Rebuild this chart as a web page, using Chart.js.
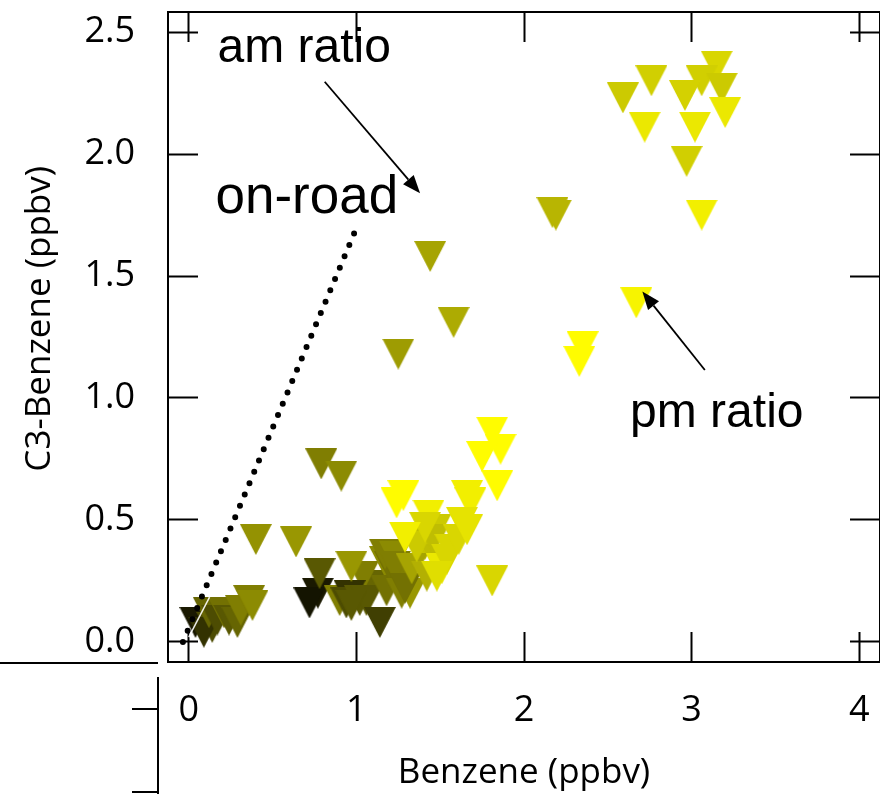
<!DOCTYPE html>
<html>
<head>
<meta charset="utf-8">
<script src="https://cdn.jsdelivr.net/npm/chart.js@4/dist/chart.umd.min.js"></script>
<style>
html,body{margin:0;padding:0;background:#fff;overflow:hidden;}
canvas{display:block;}
</style>
</head>
<body>
<canvas id="c" width="880" height="794" style="width:880px;height:794px"></canvas>
<script>
// ---- data ----
const benzene = [
  2.59, 2.76, 3.15, 3.06, 2.96, 3.18, 3.20, 2.72, 3.02, 2.97, 3.06, 2.67, 2.35, 2.33, 2.17, 2.19,
  1.44, 1.58, 1.25,
  0.04, 0.14, 0.09, 0.12, 0.17, 0.21, 0.24, 0.29, 0.31, 0.36, 0.38, 0.40, 0.64,
  0.79, 0.91,
  1.10, 1.04, 1.24, 1.32, 1.39, 1.47, 1.17, 1.41,
  0.77, 0.72, 0.78, 0.90, 0.96, 0.94, 0.97, 1.02, 1.06, 1.14, 0.97,
  1.18, 1.20, 1.17, 1.23, 1.23, 1.27, 1.29, 1.33, 1.35, 1.42, 1.48, 1.36, 1.46,
  1.81, 1.86, 1.75, 1.84, 1.28, 1.24, 1.66, 1.68, 1.43, 1.63, 1.41, 1.29, 1.56, 1.51, 1.81, 1.54,
  1.61, 1.66, 1.48
];
const c3Benzene = [
  2.23, 2.30, 2.36, 2.30, 2.24, 2.27, 2.17, 2.11, 2.11, 1.97, 1.75, 1.39, 1.21, 1.15, 1.76, 1.75,
  1.58, 1.31, 1.18,
  0.08, 0.06, 0.04, 0.12, 0.09, 0.12, 0.09, 0.08, 0.13, 0.17, 0.15, 0.42, 0.41,
  0.73, 0.68,
  0.23, 0.27, 0.26, 0.20, 0.40, 0.46, 0.33, 0.40,
  0.20, 0.16, 0.28, 0.17, 0.19, 0.16, 0.31, 0.17, 0.17, 0.08, 0.15,
  0.21, 0.31, 0.36, 0.35, 0.31, 0.20, 0.22, 0.30, 0.42, 0.27, 0.34, 0.39, 0.42,
  0.86, 0.79, 0.76, 0.64, 0.60, 0.57, 0.60, 0.57, 0.52, 0.49, 0.47, 0.43, 0.38, 0.30, 0.25, 0.34,
  0.42, 0.46, 0.27
];
// colour level of each marker (0 = black, 1 = yellow)
const shade = [
  0.80, 0.82, 0.85, 0.82, 0.83, 0.80, 0.92, 0.92, 0.92, 0.82, 0.95, 0.97, 1.00, 1.00, 0.72, 0.72,
  0.65, 0.68, 0.62,
  0.10, 0.30, 0.20, 0.40, 0.30, 0.45, 0.35, 0.40, 0.50, 0.50, 0.55, 0.58, 0.60,
  0.50, 0.55,
  0.40, 0.50, 0.50, 0.60, 0.70, 0.80, 0.55, 0.78,
  0.10, 0.08, 0.35, 0.50, 0.20, 0.30, 0.60, 0.35, 0.35, 0.25, 0.35,
  0.45, 0.45, 0.50, 0.55, 0.50, 0.50, 0.45, 0.65, 0.75, 0.70, 0.75, 0.80, 0.75,
  1.00, 1.00, 1.00, 1.00, 1.00, 1.00, 0.95, 0.95, 0.95, 0.90, 0.85, 0.95, 0.85, 0.92, 0.85, 0.85,
  0.85, 0.90, 0.88
];
const xTickValues = [0, 1, 2, 3, 4];
const yTickValues = [0.0, 0.5, 1.0, 1.5, 2.0, 2.5];
const onRoadX = [-0.035, 0.99];
const onRoadY = [0.0, 1.68];
const faintX = [0.0, 0.124];
const faintY = [0.02, 0.184];
const noteText = ['am ratio', 'on-road', 'pm ratio'];
const noteX = [0.171, 0.159, 2.633];
const noteY = [2.377, 1.758, 0.881];
const arrowFromX = [0.811, 3.079];
const arrowFromY = [2.296, 1.115];
const arrowToX = [1.380, 2.706];
const arrowToY = [1.839, 1.436];

const xMin = -0.124, xMax = 4.124;
const yMin = -0.082, yMax = 2.582;

// ---- marker images ----
function shadeColor(t) {
  return 'rgb(' + Math.round(255 * t) + ',' + Math.round(252 * t) + ',' + Math.round(8 * t * (1 - t)) + ')';
}
function triangleImage(color) {
  const c = document.createElement('canvas');
  c.width = 32; c.height = 31;
  const g = c.getContext('2d');
  g.fillStyle = color;
  g.beginPath();
  g.moveTo(0, 0); g.lineTo(32, 0); g.lineTo(16, 31); g.closePath();
  g.fill();
  return c;
}
const markerImages = shade.map(t => triangleImage(shadeColor(t)));

const points = benzene.map((b, i) => ({x: b, y: c3Benzene[i]}));
const onRoad = onRoadX.map((v, i) => ({x: v, y: onRoadY[i]}));
const faint = faintX.map((v, i) => ({x: v, y: faintY[i]}));

const tickFont = {family: '"Open Sans", "DejaVu Sans", sans-serif', size: 36};
const titleFont = {family: '"Open Sans", "DejaVu Sans", sans-serif', size: 35};

function setTicks(values) {
  return s => { s.ticks = values.map(v => ({value: v})); };
}

const decorations = {
  id: 'decorations',
  afterDatasetsDraw(chart) {
    const {ctx} = chart;
    const sx = chart.scales.x, sy = chart.scales.y;
    ctx.save();
    // arrows
    ctx.strokeStyle = '#000';
    ctx.fillStyle = '#000';
    ctx.lineWidth = 1.8;
    for (let i = 0; i < arrowFromX.length; i++) {
      const x0 = sx.getPixelForValue(arrowFromX[i]), y0 = sy.getPixelForValue(arrowFromY[i]);
      const x1 = sx.getPixelForValue(arrowToX[i]), y1 = sy.getPixelForValue(arrowToY[i]);
      const a = Math.atan2(y1 - y0, x1 - x0);
      const L = 18, W = 7;
      const bx = x1 - L * Math.cos(a), by = y1 - L * Math.sin(a);
      ctx.beginPath(); ctx.moveTo(x0, y0); ctx.lineTo(bx, by); ctx.stroke();
      ctx.beginPath();
      ctx.moveTo(x1, y1);
      ctx.lineTo(bx + W * Math.sin(a), by - W * Math.cos(a));
      ctx.lineTo(bx - W * Math.sin(a), by + W * Math.cos(a));
      ctx.closePath(); ctx.fill();
    }
    // notes
    ctx.textAlign = 'left';
    ctx.textBaseline = 'alphabetic';
    const sizes = [48, 53, 48];
    noteText.forEach((t, i) => {
      ctx.font = sizes[i] + 'px "Liberation Sans", Arial, sans-serif';
      ctx.fillText(t, sx.getPixelForValue(noteX[i]), sy.getPixelForValue(noteY[i]));
    });
    ctx.restore();
  },
  afterDraw(chart) {
    // stray axis fragments of the neighbouring panel (bottom-left corner)
    const {ctx} = chart;
    ctx.save();
    ctx.strokeStyle = '#000';
    ctx.lineWidth = 2;
    ctx.beginPath();
    ctx.moveTo(0, 663); ctx.lineTo(158, 663);
    ctx.moveTo(158, 677); ctx.lineTo(158, 794);
    ctx.moveTo(132, 709); ctx.lineTo(158, 709);
    ctx.moveTo(132, 792); ctx.lineTo(158, 792);
    ctx.stroke();
    ctx.restore();
  }
};

new Chart(document.getElementById('c'), {
  type: 'scatter',
  data: {
    datasets: [
      {
        type: 'line',
        label: 'faint',
        data: faint,
        borderColor: 'rgba(255,255,255,0.9)',
        borderWidth: 1.5,
        pointRadius: 0,
        fill: false,
        order: 0
      },
      {
        type: 'line',
        label: 'on-road',
        data: onRoad,
        borderColor: '#000',
        borderWidth: 6,
        borderDash: [0, 12.3],
        borderCapStyle: 'round',
        pointRadius: 0,
        fill: false,
        order: 0
      },
      {
        label: 'C3-Benzene',
        data: points,
        pointStyle: markerImages,
        pointRadius: 15,
        pointHoverRadius: 15,
        order: 1
      }
    ]
  },
  options: {
    responsive: false,
    animation: false,
    devicePixelRatio: 1,
    layout: {autoPadding: false, padding: {top: 12, right: -9, left: 0, bottom: 0}},
    plugins: {legend: {display: false}, tooltip: {enabled: false}},
    scales: {
      x: {
        type: 'linear', position: 'bottom', min: xMin, max: xMax,
        afterBuildTicks: setTicks(xTickValues),
        afterFit: s => { s.height = 132; s.paddingLeft = 0; s.paddingRight = 0; },
        ticks: {color: '#000', font: tickFont, padding: 57, maxRotation: 0, callback: v => String(v)},
        grid: {drawOnChartArea: false, drawTicks: true, tickLength: -30, tickColor: '#000', tickWidth: 2},
        border: {display: true, color: '#000', width: 2},
        title: {display: true, text: 'Benzene (ppbv)', color: '#000', font: titleFont, padding: {top: 0, bottom: 0}}
      },
      x2: {
        type: 'linear', position: 'top', min: xMin, max: xMax,
        afterBuildTicks: setTicks(xTickValues),
        afterFit: s => { s.height = 0; s.paddingLeft = 0; s.paddingRight = 0; },
        ticks: {display: false},
        grid: {drawOnChartArea: false, drawTicks: true, tickLength: -30, tickColor: '#000', tickWidth: 2},
        border: {display: true, color: '#000', width: 2}
      },
      y: {
        type: 'linear', position: 'left', min: yMin, max: yMax,
        afterBuildTicks: setTicks(yTickValues),
        afterFit: s => { s.width = 168; s.paddingTop = 0; s.paddingBottom = 0; },
        ticks: {color: '#000', font: tickFont, padding: 63, callback: v => Number(v).toFixed(1)},
        grid: {drawOnChartArea: false, drawTicks: true, tickLength: -30, tickColor: '#000', tickWidth: 2},
        border: {display: true, color: '#000', width: 2},
        title: {display: true, text: '    C3-Benzene (ppbv)', color: '#000', font: titleFont, padding: {top: 19, bottom: 0}}
      },
      y2: {
        type: 'linear', position: 'right', min: yMin, max: yMax,
        afterBuildTicks: setTicks(yTickValues),
        afterFit: s => { s.width = 0; s.paddingTop = 0; s.paddingBottom = 0; },
        ticks: {display: false},
        grid: {drawOnChartArea: false, drawTicks: true, tickLength: -30, tickColor: '#000', tickWidth: 2},
        border: {display: true, color: '#000', width: 2}
      }
    }
  },
  plugins: [decorations]
});
</script>
</body>
</html>
